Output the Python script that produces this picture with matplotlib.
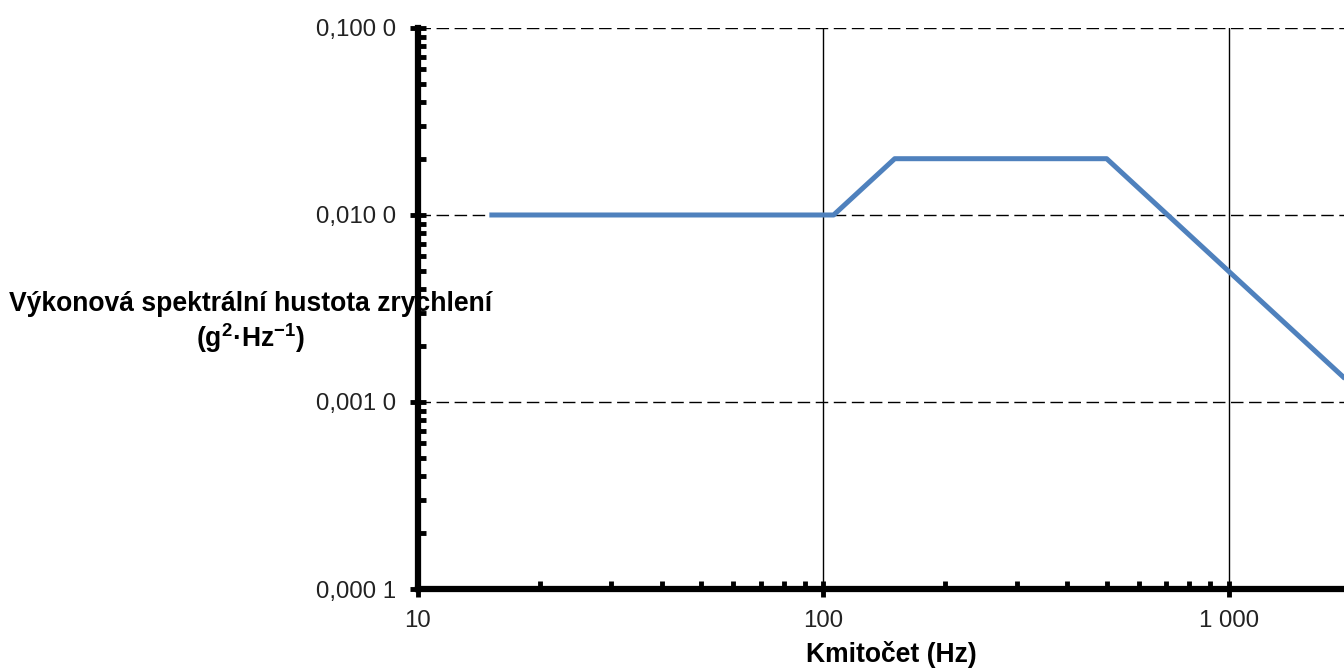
import matplotlib
matplotlib.use("Agg")
import matplotlib.pyplot as plt
from matplotlib.ticker import FixedLocator, NullFormatter

plt.rcParams['font.family'] = ['Liberation Sans', 'DejaVu Sans']
plt.rcParams['mathtext.fontset'] = 'custom'
plt.rcParams['mathtext.rm'] = 'Liberation Sans'
plt.rcParams['mathtext.bf'] = 'Liberation Sans:bold'

# datos
freq = [15, 106, 150, 500, 2000]
psd = [0.01, 0.01, 0.02, 0.02, 0.00125]

xticks = [10, 100, 1000]
xlabels = ['10', '100', '1 000']
yticks = [0.0001, 0.001, 0.01, 0.1]
ylabels = ['0,000 1', '0,001 0', '0,010 0', '0,100 0']

fig = plt.figure(figsize=(13.44, 6.71), dpi=100)
ax = fig.add_axes([0.311, 0.1222, 0.694, 0.8361])

ax.set_xscale('log')
ax.set_yscale('log')
ax.set_xlim(10, 2000)
ax.set_ylim(0.0001, 0.1)

# rejilla
for y in yticks[1:]:
    ax.axhline(y, color='black', lw=1, ls=(0, (9, 4)), zorder=1)
for x in xticks[1:]:
    ax.axvline(x, color='black', lw=1, zorder=1)

ax.plot(freq, psd, color='#4F81BD', lw=3.6, solid_capstyle='butt', zorder=3)

for s in ['top', 'right']:
    ax.spines[s].set_visible(False)
for s in ['left', 'bottom']:
    ax.spines[s].set_linewidth(4.5)
    ax.spines[s].set_zorder(4)

ax.xaxis.set_major_locator(FixedLocator(xticks))
ax.set_xticklabels(xlabels)
ax.yaxis.set_major_locator(FixedLocator(yticks))
ax.set_yticklabels(ylabels)

xminor = [m * d for d in [10, 100, 1000] for m in range(2, 10) if m * d < 2000]
yminor = [m * d for d in [0.0001, 0.001, 0.01] for m in range(2, 10)]
ax.xaxis.set_minor_locator(FixedLocator(xminor))
ax.yaxis.set_minor_locator(FixedLocator(yminor))
ax.xaxis.set_minor_formatter(NullFormatter())
ax.yaxis.set_minor_formatter(NullFormatter())

ax.tick_params(which='major', direction='inout', length=12, width=3.5,
               labelsize=17.3, labelcolor='#222222')
ax.tick_params(axis='y', which='major', pad=10)
ax.tick_params(axis='x', which='major', pad=9)
ax.tick_params(which='minor', direction='in', length=6, width=3.5)

fig.text(0.1868, 0.547, 'Výkonová spektrální hustota zrychlení',
         ha='center', va='center', fontsize=19.1, fontweight='bold', zorder=5)
fig.text(0.1868, 0.496, r'(g$^{\mathbf{2}}$·Hz$^{\mathbf{-1}}$)',
         ha='center', va='center', fontsize=19.1, fontweight='bold', zorder=5)
fig.text(0.663, 0.024, 'Kmitočet (Hz)', ha='center', va='center',
         fontsize=19.1, fontweight='bold')

plt.savefig('out.png', dpi=100)
